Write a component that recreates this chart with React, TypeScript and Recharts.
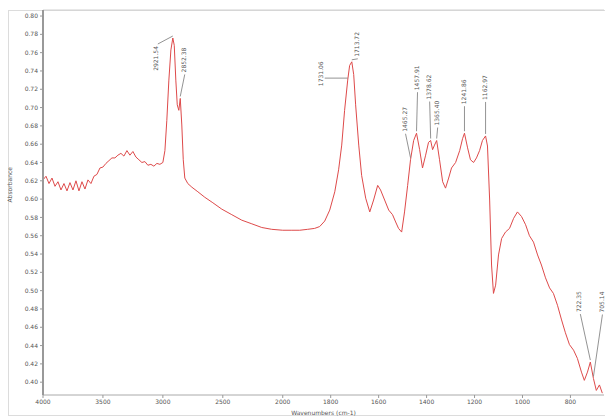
import React from "react";
import { LineChart, Line, XAxis, YAxis, ReferenceDot, ReferenceLine } from "recharts";

// Spectrum (wavenumber in cm-1, absorbance)
const wavenumbers = [
  4000, 3975, 3950, 3925, 3900, 3875, 3850, 3825, 3800, 3775,
  3750, 3725, 3700, 3675, 3650, 3625, 3600, 3575, 3550, 3525,
  3500, 3475, 3450, 3425, 3400, 3375, 3350, 3325, 3300, 3275,
  3250, 3225, 3200, 3175, 3150, 3125, 3100, 3075, 3050, 3025,
  3000, 2983, 2967, 2950, 2933, 2917, 2905, 2892, 2880, 2867,
  2855, 2842, 2830, 2817, 2792, 2758, 2708, 2650, 2583, 2508,
  2425, 2342, 2258, 2175, 2092, 2000, 1962, 1929, 1896, 1867,
  1846, 1825, 1804, 1783, 1767, 1754, 1742, 1729, 1721, 1712,
  1704, 1696, 1683, 1671, 1654, 1637, 1621, 1604, 1592, 1575,
  1558, 1542, 1529, 1517, 1504, 1492, 1479, 1467, 1454, 1442,
  1429, 1417, 1404, 1392, 1383, 1375, 1367, 1358, 1346, 1333,
  1321, 1308, 1296, 1279, 1262, 1250, 1242, 1229, 1217, 1204,
  1192, 1179, 1167, 1154, 1146, 1137, 1129, 1121, 1112, 1100,
  1087, 1071, 1054, 1037, 1021, 1004, 987, 971, 954, 937,
  921, 904, 887, 871, 854, 837, 821, 804, 787, 771,
  754, 742, 729, 717, 704, 692, 679, 667,
];

const absorbance = [
  0.621, 0.625, 0.617, 0.623, 0.614, 0.619, 0.610, 0.617, 0.609, 0.618,
  0.610, 0.620, 0.609, 0.619, 0.611, 0.621, 0.617, 0.625, 0.627, 0.634,
  0.635, 0.639, 0.642, 0.645, 0.645, 0.648, 0.650, 0.647, 0.653, 0.648,
  0.652, 0.646, 0.643, 0.640, 0.641, 0.637, 0.638, 0.636, 0.639, 0.638,
  0.640, 0.653, 0.686, 0.730, 0.763, 0.776, 0.768, 0.730, 0.703, 0.697,
  0.710, 0.681, 0.643, 0.623, 0.617, 0.613, 0.608, 0.602, 0.596, 0.589,
  0.583, 0.577, 0.573, 0.569, 0.567, 0.566, 0.566, 0.566, 0.567, 0.568,
  0.570, 0.576, 0.588, 0.608, 0.632, 0.659, 0.697, 0.730, 0.746, 0.750,
  0.736, 0.703, 0.659, 0.626, 0.601, 0.586, 0.599, 0.615, 0.610, 0.599,
  0.588, 0.583, 0.575, 0.568, 0.564, 0.586, 0.615, 0.643, 0.664, 0.672,
  0.654, 0.634, 0.648, 0.662, 0.664, 0.654, 0.659, 0.664, 0.643, 0.619,
  0.612, 0.623, 0.634, 0.640, 0.653, 0.666, 0.672, 0.656, 0.643, 0.640,
  0.645, 0.653, 0.664, 0.669, 0.658, 0.599, 0.528, 0.497, 0.506, 0.539,
  0.557, 0.564, 0.568, 0.579, 0.586, 0.581, 0.572, 0.560, 0.553, 0.539,
  0.528, 0.514, 0.503, 0.497, 0.484, 0.468, 0.454, 0.441, 0.435, 0.426,
  0.411, 0.402, 0.411, 0.422, 0.404, 0.391, 0.397, 0.388,
];

const xTickLabels = [4000, 3500, 3000, 2500, 2000, 1800, 1600, 1400, 1200, 1000, 800];
const yTickLabels = [
  0.8, 0.78, 0.76, 0.74, 0.72, 0.7, 0.68, 0.66, 0.64, 0.62, 0.6,
  0.58, 0.56, 0.54, 0.52, 0.5, 0.48, 0.46, 0.44, 0.42, 0.4,
];

// Peak picks
const peakWavenumbers = [2917, 2855, 1729, 1712, 1467, 1442, 1383, 1358, 1242, 1154, 717, 704];
const peakTexts = [
  "2921.54", "2852.38", "1731.06", "1713.72", "1465.27", "1457.91",
  "1378.62", "1365.40", "1241.86", "1162.97", "722.35", "705.14",
];

// label placement (pixel offsets from the peak), kept apart from the data
const peakLayout = [
  { dx: -16, dy: 8, anchor: "end", lx: -15, ly: 6 },
  { dx: 4.5, dy: -26, anchor: "start", lx: 4.5, ly: -24 },
  { dx: -26, dy: 6, anchor: "start", lx: -23, ly: -2 },
  { dx: 6, dy: -5, anchor: "start", lx: 6, ly: -3 },
  { dx: -5, dy: -28, anchor: "start", lx: -5, ly: -26 },
  { dx: 1, dy: -43, anchor: "start", lx: 1, ly: -41 },
  { dx: -1, dy: -41, anchor: "start", lx: -1, ly: -39 },
  { dx: 1, dy: -15, anchor: "start", lx: 1, ly: -13 },
  { dx: 0, dy: -29, anchor: "start", lx: 0, ly: -27 },
  { dx: 0, dy: -36, anchor: "start", lx: 0, ly: -34 },
  { dx: -11, dy: -50, anchor: "start", lx: -10, ly: -48 },
  { dx: 9, dy: -66, anchor: "start", lx: 9, ly: -64 },
];

// OMNIC-style axis: 2x expansion below 2000 cm-1
const toU = (w: number) => (w >= 2000 ? 4000 - w : 2000 + 2 * (2000 - w));
const X_END = 660;
const Y_MIN = 0.386;
const Y_MAX = 0.8066;

const FONT = "'DejaVu Sans', 'Liberation Sans', sans-serif";

function makePeakShape(text: string, lay: any) {
  return (p: any) => {
    const cx = p.cx;
    const cy = p.cy;
    if (cx == null || cy == null) return <g />;
    const tx = cx + lay.dx;
    const ty = cy + lay.dy;
    return (
      <g>
        <line x1={cx} y1={cy - 2} x2={cx + lay.lx} y2={cy + lay.ly} stroke="#777" strokeWidth={0.8} />
        <text
          x={tx}
          y={ty}
          transform={`rotate(-90 ${tx} ${ty})`}
          textAnchor={lay.anchor}
          dominantBaseline="middle"
          fontSize={6}
          fontFamily={FONT}
          fill="#555"
        >
          {text}
        </text>
      </g>
    );
  };
}

export default function App() {
  const data = wavenumbers.map((w, i) => ({ u: toU(w), a: absorbance[i] }));
  const xTicks = xTickLabels.map(toU);
  return (
    <div
      style={{
        position: "absolute",
        left: 0,
        top: 0,
        width: 605,
        height: 417,
        background: "#fff",
        overflow: "hidden",
      }}
    >
      <div
        style={{
          position: "absolute",
          left: 8,
          top: 10,
          width: 600,
          height: 404,
          border: "1px solid #dcdcdc",
        }}
      />
      <LineChart width={605} height={417} data={data} margin={{ top: 10, right: 1, bottom: 0, left: 0 }}>
        <XAxis
          dataKey="u"
          type="number"
          domain={[0, toU(X_END)]}
          ticks={xTicks}
          interval={0}
          tickFormatter={(v: number) => String(xTickLabels[xTicks.indexOf(v)] ?? "")}
          height={22}
          tickSize={3}
          tick={{ fontSize: 6, fill: "#555", fontFamily: FONT }}
          axisLine={{ stroke: "#aaa" }}
          tickLine={{ stroke: "#999" }}
          allowDataOverflow
          label={{
            value: "Wavenumbers (cm-1)",
            position: "insideBottom",
            offset: 2,
            fontSize: 6,
            fill: "#555",
            fontFamily: FONT,
          }}
        />
        <YAxis
          type="number"
          domain={[Y_MIN, Y_MAX]}
          ticks={yTickLabels}
          interval={0}
          tickFormatter={(v: number) => v.toFixed(2)}
          width={43}
          tickSize={3}
          tick={{ fontSize: 6, fill: "#555", fontFamily: FONT }}
          axisLine={{ stroke: "#999", strokeWidth: 2 }}
          tickLine={{ stroke: "#999" }}
          allowDataOverflow
          label={{
            value: "Absorbance",
            angle: -90,
            position: "insideLeft",
            offset: 10,
            fontSize: 6,
            fill: "#555",
            fontFamily: FONT,
          }}
        />
        <ReferenceLine y={Y_MAX} stroke="#d0d0d0" />
        <Line
          type="linear"
          dataKey="a"
          stroke="#de4a4a"
          strokeWidth={1}
          dot={false}
          isAnimationActive={false}
        />
        {peakWavenumbers.map((w, i) => {
          const idx = wavenumbers.indexOf(w);
          return (
            <ReferenceDot
              key={w}
              x={toU(w)}
              y={absorbance[idx]}
              r={0}
              ifOverflow="visible"
              shape={makePeakShape(peakTexts[i], peakLayout[i])}
            />
          );
        })}
      </LineChart>
    </div>
  );
}
